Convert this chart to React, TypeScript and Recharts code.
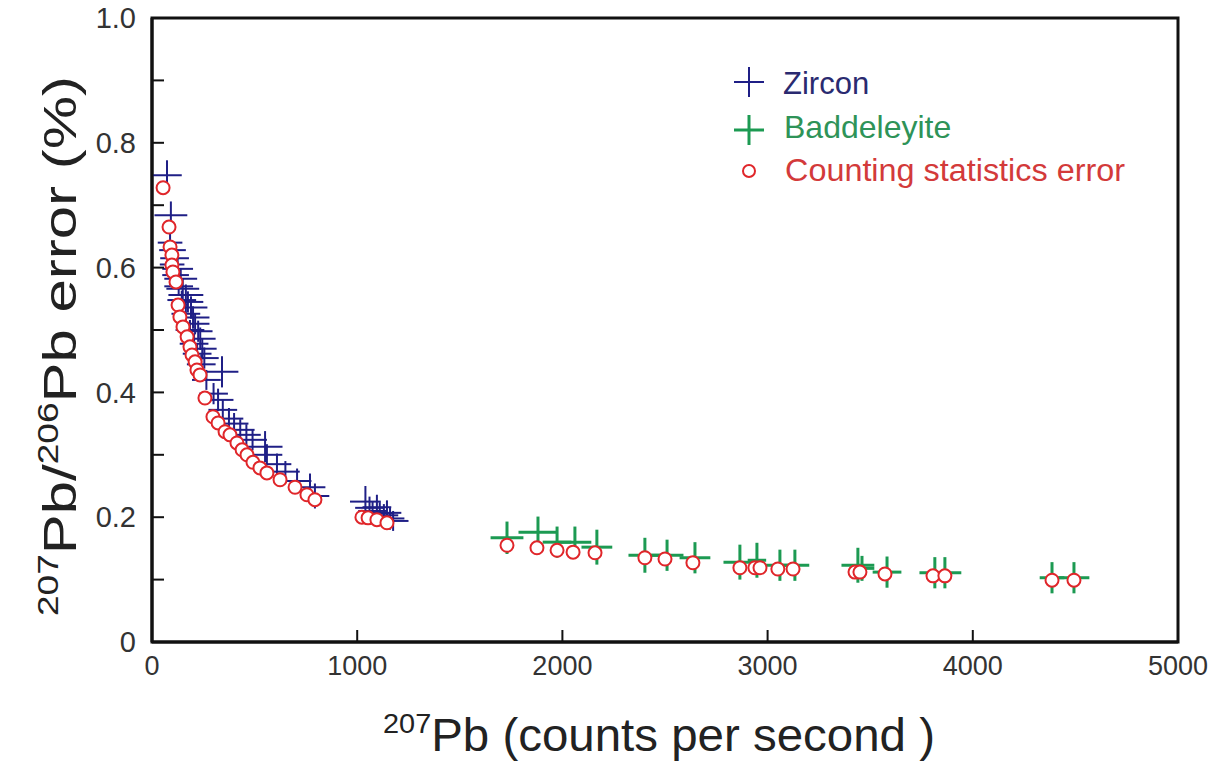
import React from 'react';
import { ScatterChart, Scatter, XAxis, YAxis, ErrorBar, ReferenceArea } from 'recharts';

// Zircon: 207Pb cps, error (%), and cross half-widths (cps, %)
const zirconCps = [73, 92, 88, 100, 110, 98, 125, 115, 140, 130, 150, 165, 145, 175, 190, 165, 200, 210, 185, 225, 235, 205, 245, 220, 255, 240, 341, 265, 300, 322, 345, 375, 400, 430, 460, 490, 551, 560, 609, 650, 707, 770, 794, 1040, 1060, 1075, 1096, 1110, 1130, 1145, 1160, 1175];
const zirconErr = [0.748, 0.684, 0.64, 0.628, 0.615, 0.605, 0.598, 0.588, 0.582, 0.57, 0.566, 0.556, 0.548, 0.545, 0.536, 0.526, 0.52, 0.51, 0.5, 0.498, 0.486, 0.478, 0.47, 0.462, 0.455, 0.445, 0.433, 0.42, 0.398, 0.388, 0.372, 0.358, 0.35, 0.34, 0.332, 0.324, 0.313, 0.3, 0.285, 0.273, 0.258, 0.248, 0.234, 0.225, 0.215, 0.21, 0.216, 0.206, 0.203, 0.207, 0.198, 0.194];
const zirconCpsSpread = [72, 80, 60, 65, 70, 60, 75, 65, 80, 70, 80, 85, 70, 75, 80, 70, 80, 70, 70, 70, 75, 70, 70, 70, 70, 70, 80, 70, 70, 75, 70, 70, 70, 70, 70, 70, 85, 75, 70, 70, 70, 75, 70, 75, 70, 70, 70, 70, 70, 70, 70, 75];
const zirconErrSpread = [0.024, 0.022, 0.016, 0.014, 0.015, 0.014, 0.016, 0.015, 0.016, 0.015, 0.017, 0.017, 0.015, 0.017, 0.018, 0.016, 0.018, 0.017, 0.016, 0.017, 0.018, 0.016, 0.017, 0.016, 0.017, 0.016, 0.025, 0.016, 0.017, 0.018, 0.017, 0.017, 0.017, 0.017, 0.017, 0.017, 0.025, 0.017, 0.017, 0.017, 0.02, 0.022, 0.02, 0.025, 0.018, 0.016, 0.02, 0.018, 0.018, 0.02, 0.018, 0.016];

// Baddeleyite
const baddCps = [1730, 1881, 1974, 2061, 2168, 2402, 2510, 2646, 2865, 2948, 3060, 3133, 3440, 3460, 3582, 3815, 3864, 4386, 4493];
const baddErr = [0.167, 0.176, 0.16, 0.16, 0.152, 0.139, 0.139, 0.135, 0.128, 0.131, 0.123, 0.123, 0.123, 0.118, 0.112, 0.111, 0.111, 0.103, 0.103];
const baddCpsSpread = [80, 95, 70, 80, 75, 80, 80, 75, 80, 45, 75, 70, 80, 60, 70, 75, 80, 60, 75];
const baddErrSpread = [0.026, 0.025, 0.025, 0.025, 0.028, 0.028, 0.025, 0.025, 0.028, 0.028, 0.025, 0.025, 0.028, 0.02, 0.025, 0.025, 0.025, 0.025, 0.025];

// Counting statistics error
const countCps = [54, 83, 88, 97, 97, 102, 117, 127, 136, 151, 171, 185, 195, 210, 219, 234, 258, 297, 322, 356, 380, 414, 439, 463, 492, 526, 560, 624, 697, 755, 794, 1023, 1053, 1096, 1145, 1730, 1876, 1974, 2052, 2159, 2402, 2500, 2636, 2865, 2938, 2963, 3050, 3124, 3426, 3450, 3572, 3806, 3864, 4386, 4493];
const countErr = [0.728, 0.665, 0.633, 0.62, 0.604, 0.593, 0.577, 0.54, 0.521, 0.505, 0.489, 0.473, 0.46, 0.449, 0.436, 0.428, 0.391, 0.361, 0.351, 0.337, 0.332, 0.319, 0.308, 0.3, 0.288, 0.279, 0.271, 0.26, 0.248, 0.236, 0.228, 0.2, 0.199, 0.196, 0.191, 0.155, 0.151, 0.147, 0.144, 0.143, 0.135, 0.133, 0.127, 0.119, 0.119, 0.119, 0.117, 0.117, 0.112, 0.112, 0.109, 0.106, 0.106, 0.099, 0.099];

const xTicks = [0, 1000, 2000, 3000, 4000, 5000];
const yTicks = [0, 0.1, 0.2, 0.3, 0.4, 0.5, 0.6, 0.7, 0.8, 0.9, 1.0];

const zirconData = zirconCps.map((x, i) => ({ x, y: zirconErr[i], ex: zirconCpsSpread[i], ey: zirconErrSpread[i] }));
const baddData = baddCps.map((x, i) => ({ x, y: baddErr[i], ex: baddCpsSpread[i], ey: baddErrSpread[i] }));
const countData = countCps.map((x, i) => ({ x, y: countErr[i] }));

const NAVY = '#1f1f86';
const GREEN = '#1c9a52';
const RED = '#e0262a';
const FONT = '"Liberation Sans", Arial, Helvetica, sans-serif';

const Empty = () => <g />;
const RingShape = (p: any) => (
  <circle cx={p.cx} cy={p.cy} r={6.5} fill="#fff" stroke={RED} strokeWidth={2} />
);

const yFmt = (v: number) => {
  const t = Math.round(v * 10);
  if (t === 0) return '0';
  if (t % 2 !== 0) return '';
  return (t / 10).toFixed(1);
};

export default function App() {
  return (
    <div style={{ position: 'absolute', left: 0, top: 0, width: 1219, height: 762, background: '#fff' }}>
      <ScatterChart width={1219} height={762} margin={{ top: 18, right: 41, bottom: 0, left: 0 }}>
        <XAxis
          type="number"
          dataKey="x"
          domain={[0, 5000]}
          ticks={xTicks}
          allowDataOverflow
          height={120}
          axisLine={{ stroke: '#111', strokeWidth: 3 }}
          tickLine={{ stroke: '#111', strokeWidth: 2 }}
          tickSize={-12}
          tickMargin={26}
          tick={{ fontSize: 27, fill: '#333', fontFamily: FONT }}
        />
        <YAxis
          type="number"
          dataKey="y"
          domain={[0, 1]}
          ticks={yTicks}
          allowDataOverflow
          width={152}
          axisLine={{ stroke: '#111', strokeWidth: 3 }}
          tickLine={{ stroke: '#111', strokeWidth: 2 }}
          tickSize={-12}
          tickMargin={28}
          tickFormatter={yFmt}
          tick={{ fontSize: 29, fill: '#333', fontFamily: FONT }}
        />
        <ReferenceArea x1={0} x2={5000} y1={0} y2={1} fill="none" stroke="#111" strokeWidth={3} ifOverflow="visible" />
        <Scatter data={zirconData} shape={Empty} isAnimationActive={false}>
          <ErrorBar dataKey="ex" direction="x" width={0} stroke={NAVY} strokeWidth={2} />
          <ErrorBar dataKey="ey" direction="y" width={0} stroke={NAVY} strokeWidth={2} />
        </Scatter>
        <Scatter data={baddData} shape={Empty} isAnimationActive={false}>
          <ErrorBar dataKey="ex" direction="x" width={0} stroke={GREEN} strokeWidth={3} />
          <ErrorBar dataKey="ey" direction="y" width={0} stroke={GREEN} strokeWidth={3} />
        </Scatter>
        <Scatter data={countData} shape={RingShape} isAnimationActive={false} />
      </ScatterChart>
      <svg width={1219} height={762} style={{ position: 'absolute', left: 0, top: 0, pointerEvents: 'none' }}>
        <text
          transform="translate(76,346) rotate(-90)"
          textAnchor="middle"
          fontFamily={FONT}
          fontSize={47}
          fill="#222"
          textLength={540}
          lengthAdjust="spacingAndGlyphs"
        >
          <tspan fontSize={29} dy={-18}>207</tspan>
          <tspan dy={18}>Pb/</tspan>
          <tspan fontSize={29} dy={-18}>206</tspan>
          <tspan dy={18}>Pb error (%)</tspan>
        </text>
        <text x={383} y={751} fontFamily={FONT} fontSize={46} fill="#222" textLength={552} lengthAdjust="spacingAndGlyphs">
          <tspan fontSize={28} dy={-18}>207</tspan>
          <tspan dy={18}>Pb (counts per second )</tspan>
        </text>
        <g>
          <line x1={734} x2={764} y1={82} y2={82} stroke={NAVY} strokeWidth={2} />
          <line x1={749} x2={749} y1={67} y2={97} stroke={NAVY} strokeWidth={2} />
          <text x={783} y={94} fontFamily={FONT} fontSize={31} fill="#2a2a70">Zircon</text>
          <line x1={734} x2={764} y1={130} y2={130} stroke={GREEN} strokeWidth={3} />
          <line x1={749} x2={749} y1={115} y2={145} stroke={GREEN} strokeWidth={3} />
          <text x={784} y={138} fontFamily={FONT} fontSize={32} fill="#2e9358">Baddeleyite</text>
          <circle cx={749} cy={171} r={6} fill="#fff" stroke={RED} strokeWidth={2} />
          <text x={785} y={181} fontFamily={FONT} fontSize={31} fill="#d33a3a" textLength={340} lengthAdjust="spacingAndGlyphs">Counting statistics error</text>
        </g>
      </svg>
    </div>
  );
}
